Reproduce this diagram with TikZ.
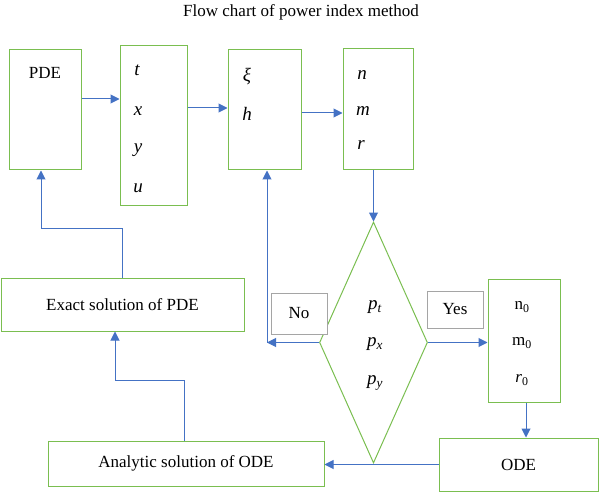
\documentclass[tikz,border=0pt]{standalone}
\usepackage{fontspec}
\setmainfont{Liberation Serif}
\usetikzlibrary{arrows.meta,shapes.geometric}
\definecolor{boxgreen}{RGB}{122,190,80}
\definecolor{flowblue}{RGB}{68,114,196}
\definecolor{taggray}{RGB}{165,165,165}
\tikzset{
	box/.style = {draw=boxgreen, line width=1pt, rectangle, inner sep=0pt},
	tag/.style = {draw=taggray, line width=1pt, fill=white, rectangle, inner sep=0pt},
	flow/.style = {draw=flowblue, line width=1pt, -{Triangle[length=9pt,width=9pt]}},
	txt/.style = {font=\fontsize{17}{20}\selectfont, inner sep=0pt},
	var/.style = {font=\fontsize{19}{22}\selectfont\itshape, inner sep=0pt}
}
\begin{document}
\begin{tikzpicture}[x=1pt,y=-1pt]
		\useasboundingbox (0,0) rectangle (600,492);
		\node[txt] (title) at (301,12) {Flow chart of power index method};
		\node[box, minimum width=72pt, minimum height=120pt] (pde) at (45,110) {};
		\node[box, minimum width=67pt, minimum height=159pt] (vars) at (153.5,125.5) {};
		\node[box, minimum width=73pt, minimum height=120pt] (xih) at (264.5,110) {};
		\node[box, minimum width=70pt, minimum height=121pt] (nmr) at (378,109.5) {};
		\node[draw=boxgreen, line width=1pt, diamond, inner sep=0pt, minimum width=108pt, minimum height=241pt] (dia) at (373.5,342.5) {};
		\node[box, minimum width=72pt, minimum height=123pt] (zero) at (524,340.5) {};
		\node[box, minimum width=159pt, minimum height=53pt] (ode) at (518.5,464.5) {};
		\node[box, minimum width=276pt, minimum height=45pt] (ana) at (186,463.5) {};
		\node[box, minimum width=243pt, minimum height=53pt] (exact) at (122.5,304.5) {};
		\node[tag, minimum width=56pt, minimum height=41pt] (no) at (299,313.5) {};
		\node[tag, minimum width=56pt, minimum height=37pt] (yes) at (455,309.5) {};
		\node[txt] (pdetext) at (45,73) {PDE};
		\node[var] (vt) at (137,70) {t};
		\node[var] (vx) at (138,111) {x};
		\node[var] (vy) at (138,150) {y};
		\node[var] (vu) at (138,188) {u};
		\node[var] (vxi) at (247,77) {ξ};
		\node[var] (vh) at (247,114) {h};
		\node[var] (vn) at (362,75) {n};
		\node[var] (vm) at (363,111) {m};
		\node[var] (vr) at (361,145) {r};
		\node[var] (pt) at (375,307) {p\textsubscript{t}};
		\node[var] (px) at (375,344) {p\textsubscript{x}};
		\node[var] (py) at (375,383) {p\textsubscript{y}};
		\node[txt] (nzero) at (522,307) {n\textsubscript{0}};
		\node[txt] (mzero) at (522,343) {m\textsubscript{0}};
		\node[txt] (rzero) at (522,380) {\textit{r}\textsubscript{0}};
		\node[txt] at (no) {No};
		\node[txt] at (yes) {Yes};
		\node[txt] at (ode) {ODE};
		\node[txt] at (ana) {Analytic solution of ODE};
		\node[txt] at (exact) {Exact solution of PDE};
		\coordinate (noturn) at (267,342.5);
		\coordinate (anaturn) at (115,380);
		\coordinate (exturn) at (41,228);
		\draw[flow] ([yshift=11pt]pde.east) -- ([yshift=11pt]pde.east -| vars.west);
		\draw[flow] ([yshift=17.5pt]vars.east) -- ([yshift=17.5pt]vars.east -| xih.west);
		\draw[flow] ([yshift=-3pt]xih.east) -- ([yshift=-3pt]xih.east -| nmr.west);
		\draw[flow] (dia.north |- nmr.south) -- (dia.north);
		\draw[flow] (dia.west) -- (noturn);
		\draw[flow] (noturn) -- (noturn |- xih.south);
		\draw[flow] (dia.east) -- (dia.east -| zero.west);
		\draw[flow] ([xshift=2pt]zero.south) -- ([xshift=2pt]zero.south |- ode.north);
		\draw[flow] (ode.west) -- (ode.west -| ana.east);
		\draw[flow] ([xshift=-2pt]ana.north) |- (anaturn) -- (anaturn |- exact.south);
		\draw[flow] (exact.north) |- (exturn) -- (exturn |- pde.south);
	\end{tikzpicture}
\end{document}
